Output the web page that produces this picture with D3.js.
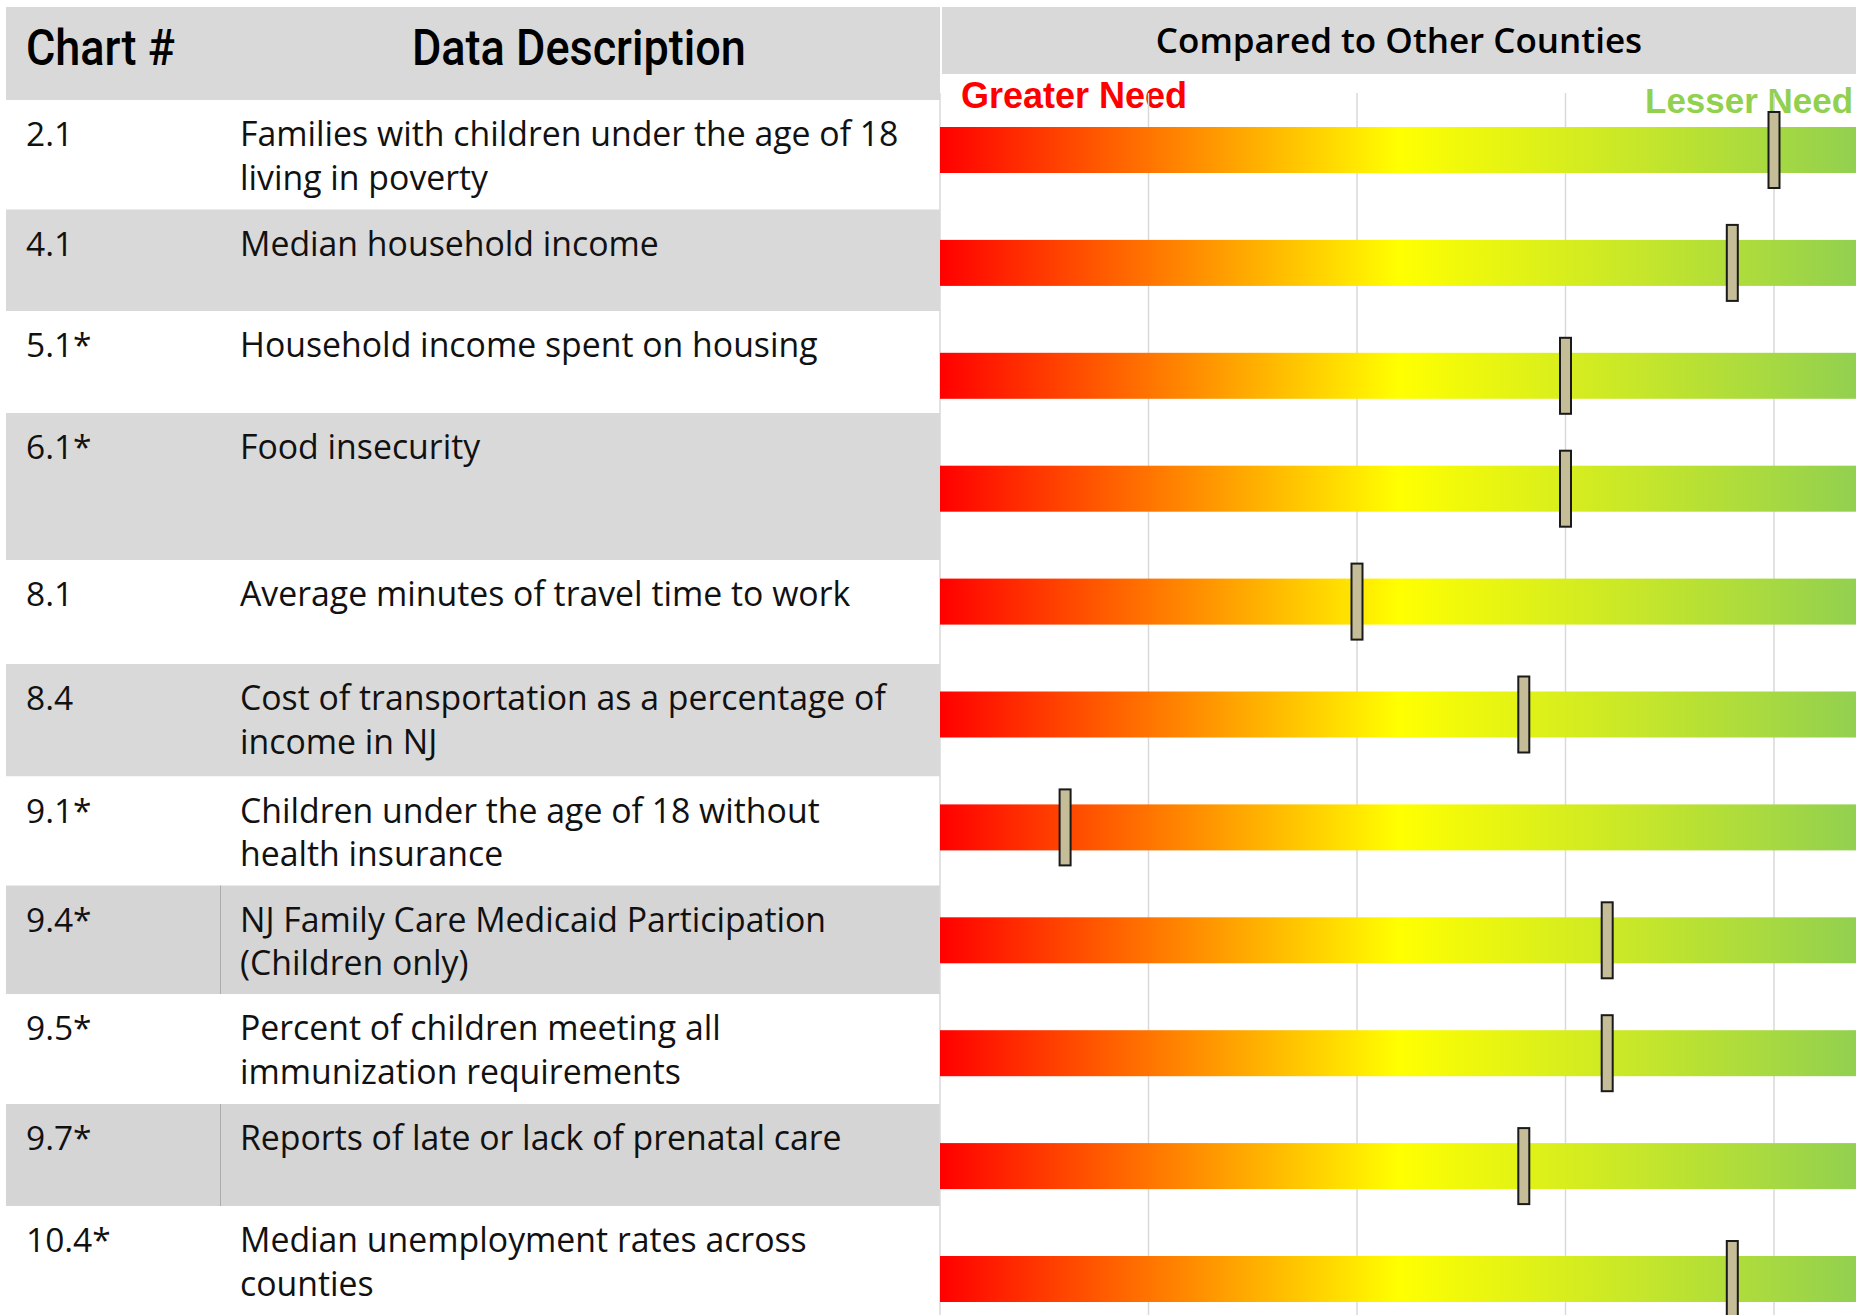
<!DOCTYPE html>
<html>
<head>
<meta charset="utf-8">
<script src="https://cdn.jsdelivr.net/npm/d3@7"></script>
<style>
  body { margin: 0; background: #fff; }
  svg { display: block; }
</style>
</head>
<body>
<script>
// data
const chartIds = ['2.1', '4.1', '5.1*', '6.1*', '8.1', '8.4', '9.1*', '9.4*', '9.5*', '9.7*', '10.4*'];
const descriptions = [
    ['Families with children under the age of 18', 'living in poverty'],
    ['Median household income'],
    ['Household income spent on housing'],
    ['Food insecurity'],
    ['Average minutes of travel time to work'],
    ['Cost of transportation as a percentage of', 'income in NJ'],
    ['Children under the age of 18 without', 'health insurance'],
    ['NJ Family Care Medicaid Participation', '(Children only)'],
    ['Percent of children meeting all', 'immunization requirements'],
    ['Reports of late or lack of prenatal care'],
    ['Median unemployment rates across', 'counties']
];
// county rank (position on the greater -> lesser need scale)
const ranks = [20, 19, 15, 15, 10, 14, 3, 16, 16, 14, 19];
const rankTicks = [0, 5, 10, 15, 20];
const rankMax = 22;

// layout
const W = 1856, H = 1315;
const rowEdges = [100, 209.5, 311, 413, 560, 664, 776.5, 885.5, 994, 1104, 1206, 1315];
const divided = ['9.4*', '9.7*'];
const gray = '#D9D9D9';
const bodyFont = '"Open Sans", sans-serif';

const svg = d3.select('body').append('svg')
    .attr('width', W)
    .attr('height', H);

const grad = svg.append('defs').append('linearGradient')
    .attr('id', 'needGradient')
    .attr('gradientUnits', 'userSpaceOnUse');

const x = d3.scaleLinear()
    .domain([0, rankMax])
    .range([940, 1857.4]);

const y = d3.scalePoint()
    .domain(chartIds)
    .range([150, 1279]);

grad.attr('x1', x(0)).attr('x2', x(rankMax)).attr('y1', 0).attr('y2', 0);
grad.selectAll('stop')
    .data([[0, '#FF0000'], [0.5, '#FFFF00'], [1, '#92D050']]).enter()
    .append('stop')
        .attr('offset', d => d[0])
        .attr('stop-color', d => d[1]);

// table side
const rows = svg.append('g').selectAll('g')
    .data(chartIds).enter()
    .append('g');

rows.append('rect')
    .attr('x', 6)
    .attr('y', (d, i) => rowEdges[i])
    .attr('width', 934)
    .attr('height', (d, i) => rowEdges[i + 1] - rowEdges[i])
    .attr('fill', (d, i) => i % 2 ? (divided.includes(d) ? '#D5D5D5' : gray) : '#fff');

rows.filter(d => divided.includes(d))
    .append('line')
        .attr('x1', 220.5).attr('x2', 220.5)
        .attr('y1', (d) => rowEdges[chartIds.indexOf(d)])
        .attr('y2', (d) => rowEdges[chartIds.indexOf(d) + 1])
        .attr('stroke', '#ABABAB')
        .attr('stroke-width', 1);

rows.append('text')
    .attr('x', 26)
    .attr('y', (d, i) => rowEdges[i] + 46)
    .attr('font-family', bodyFont)
    .attr('font-size', 33.5)
    .attr('fill', '#111')
    .text(d => d);

rows.append('text')
    .attr('font-family', bodyFont)
    .attr('font-size', 33.8)
    .attr('fill', '#111')
    .selectAll('tspan')
    .data((d, i) => descriptions[i].map(line => ({ line: line, top: rowEdges[i] })))
    .enter()
    .append('tspan')
        .attr('x', 240)
        .attr('y', (d, j) => d.top + 46 + j * 43.5)
        .text(d => d.line);

// headers
svg.append('rect')
    .attr('x', 6).attr('y', 7)
    .attr('width', 934).attr('height', 93)
    .attr('fill', gray);

svg.append('rect')
    .attr('x', 942).attr('y', 7)
    .attr('width', W - 942).attr('height', 67)
    .attr('fill', gray);

// condensed header type: squeeze Roboto a little
const headFont = 'Roboto, "Liberation Sans", sans-serif';
[['Chart #', 26], ['Data Description', 412]].forEach(function(h) {
    svg.append('text')
        .attr('transform', 'translate(' + h[1] + ',65) scale(0.9,1)')
        .attr('font-family', headFont)
        .attr('font-weight', 500)
        .attr('font-size', 50)
        .attr('fill', '#000')
        .text(h[0]);
});

svg.append('text')
    .attr('x', 1399).attr('y', 53)
    .attr('text-anchor', 'middle')
    .attr('font-family', bodyFont)
    .attr('font-weight', 600)
    .attr('font-size', 35)
    .text('Compared to Other Counties');

svg.append('text')
    .attr('x', 961).attr('y', 108)
    .attr('font-family', '"Liberation Sans", Arial, sans-serif')
    .attr('font-weight', 'bold')
    .attr('font-size', 36)
    .attr('fill', '#FF0000')
    .text('Greater Need');

svg.append('text')
    .attr('x', 1645).attr('y', 113)
    .attr('font-family', '"Liberation Sans", Arial, sans-serif')
    .attr('font-weight', 'bold')
    .attr('font-size', 35)
    .attr('fill', '#92D050')
    .text('Lesser Need');

// grid
svg.append('g').selectAll('line')
    .data(rankTicks).enter()
    .append('line')
        .attr('x1', d => x(d)).attr('x2', d => x(d))
        .attr('y1', 93).attr('y2', H)
        .attr('stroke', '#D9D9D9')
        .attr('stroke-width', 1.5);

// gradient bars
svg.append('g').selectAll('rect')
    .data(chartIds).enter()
    .append('rect')
        .attr('x', x(0))
        .attr('y', d => y(d) - 23)
        .attr('width', x(rankMax) - x(0))
        .attr('height', 46)
        .attr('fill', 'url(#needGradient)');

// rank markers
svg.append('g').selectAll('rect')
    .data(ranks).enter()
    .append('rect')
        .attr('x', d => x(d) - 5.5)
        .attr('y', (d, i) => y(chartIds[i]) - 38)
        .attr('width', 11)
        .attr('height', 76)
        .attr('fill', '#C4BD97')
        .attr('stroke', '#1A1A1A')
        .attr('stroke-width', 2);
</script>
</body>
</html>
